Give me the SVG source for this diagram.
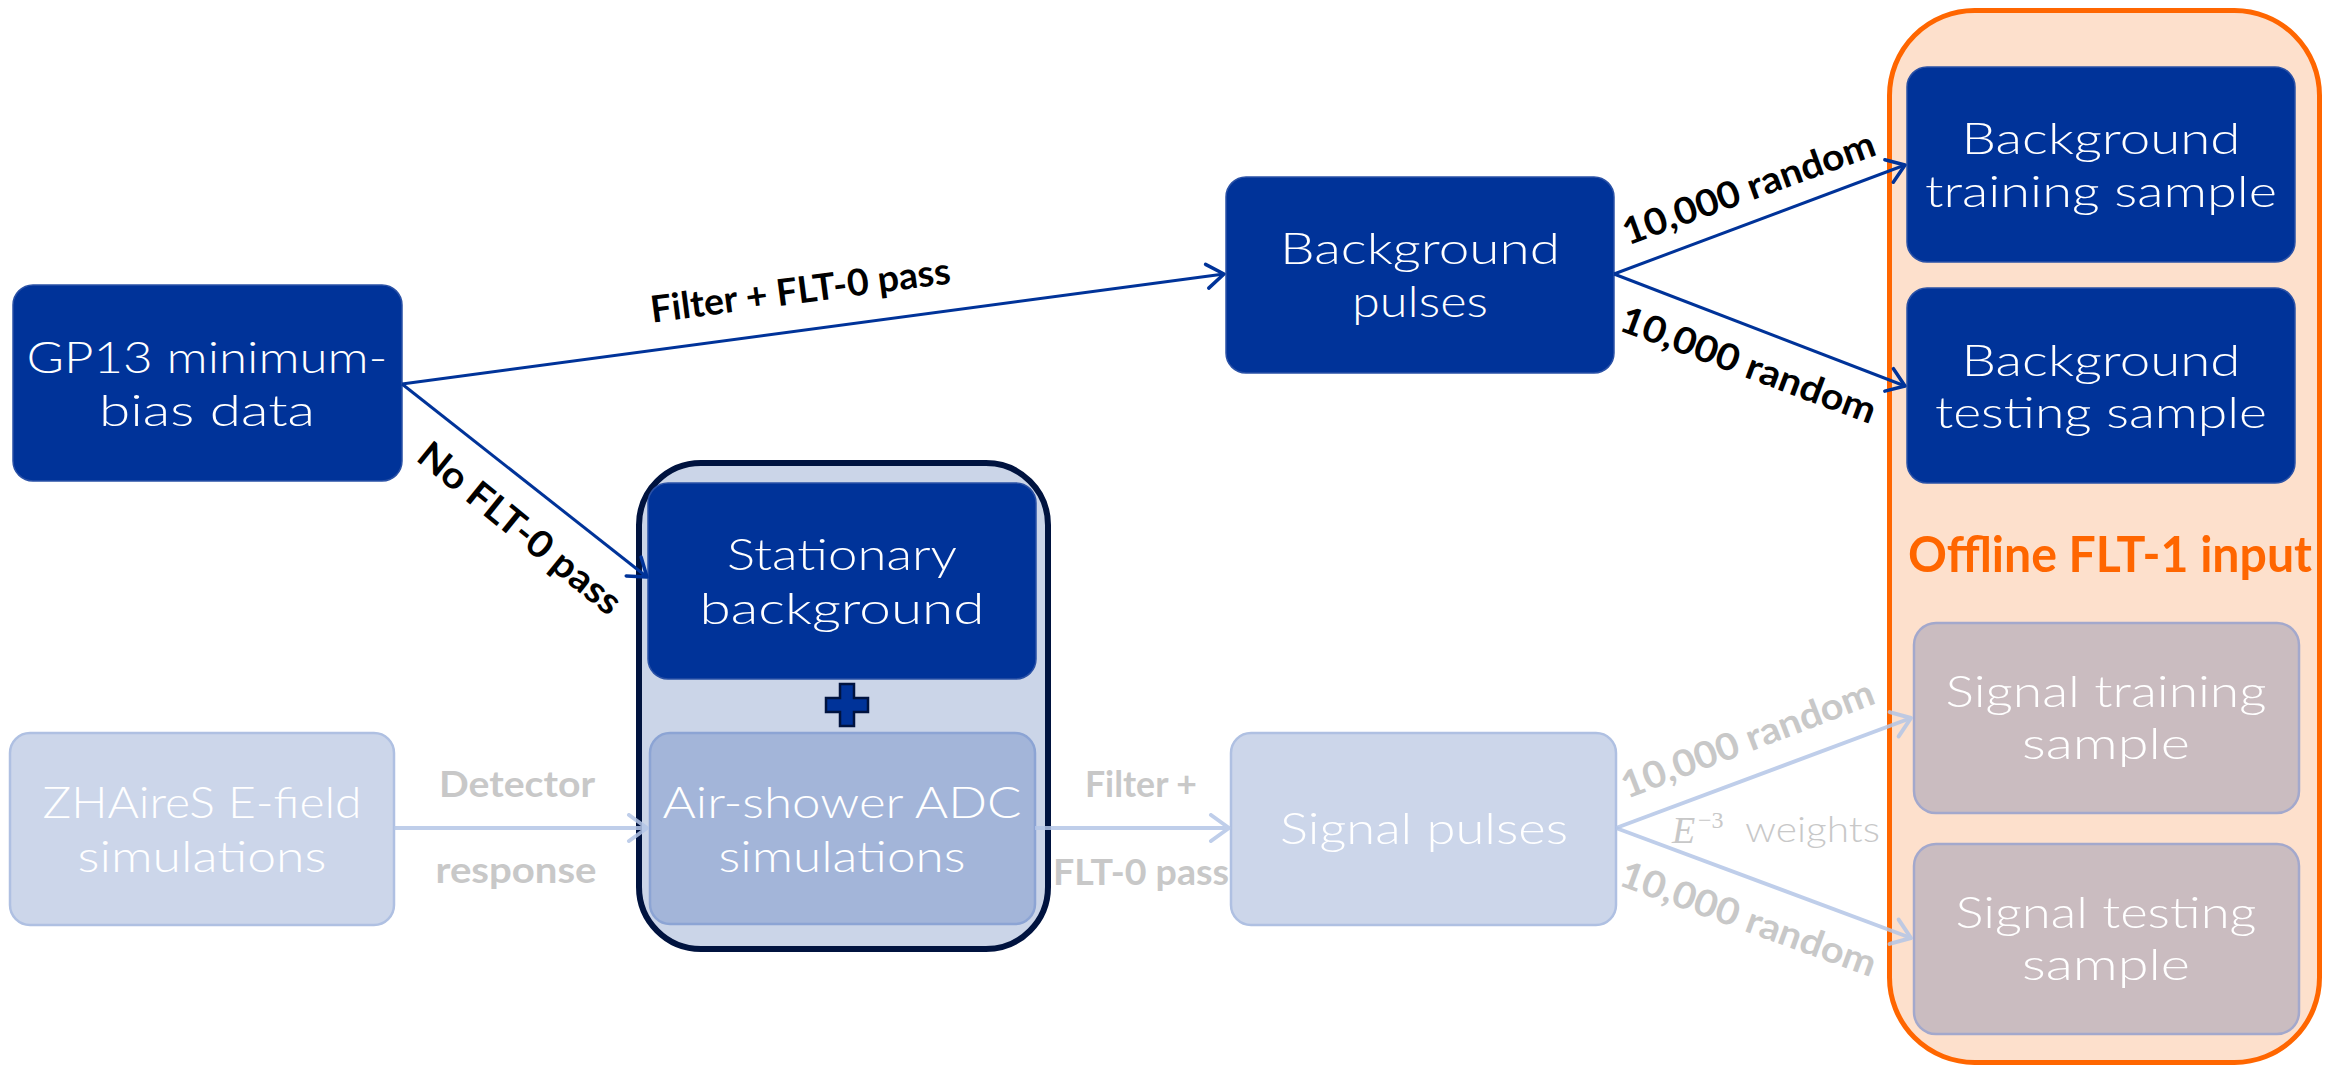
<svg xmlns="http://www.w3.org/2000/svg" width="2341" height="1067" viewBox="0 0 2341 1067">
<style>
.dark{fill:#003399;stroke:#2A51A6;stroke-width:1.5}
.light{fill:#CCD6EA;stroke:#AFC0E2;stroke-width:2.5}
.mid{fill:#A3B5D9;stroke:#8CA4D4;stroke-width:2.5}
.sig{fill:#CABCC0;stroke:#A3A8CC;stroke-width:2.5}
.t{font-family:Lato,"Liberation Sans",sans-serif;font-weight:300;font-size:44px;fill:#FFFFFF;text-anchor:middle}
.lb{font-family:Lato,"Liberation Sans",sans-serif;font-weight:bold;font-size:37px;text-anchor:middle}
.blk{fill:#000000}
.gry{fill:#C8C8C8}
.cd{fill:none;stroke:#003399;stroke-width:3}
.cl{fill:none;stroke:#B4C6E7;stroke-width:4;opacity:0.85}
</style>
<defs>
<marker id="ahD" markerUnits="userSpaceOnUse" markerWidth="40" markerHeight="40" viewBox="-25 -20 30 40" refX="0" refY="0" orient="auto" overflow="visible">
<path d="M-17,-12 L0,0 L-17,12" fill="none" stroke="#003399" stroke-width="3.5" stroke-linecap="round" stroke-linejoin="round"/>
</marker>
<marker id="ahL" markerUnits="userSpaceOnUse" markerWidth="40" markerHeight="40" viewBox="-25 -20 30 40" refX="0" refY="0" orient="auto" overflow="visible">
<path d="M-18,-13 L0,0 L-18,13" fill="none" stroke="#B4C6E7" stroke-width="4" stroke-linecap="round" stroke-linejoin="round"/>
</marker>
</defs>
<rect width="2341" height="1067" fill="#FFFFFF"/>

<g id="offline-container">
<rect x="1889.5" y="10.5" width="430" height="1052" rx="85" fill="#FDE0CC" stroke="#FF6600" stroke-width="5"/>
<text x="2110" y="572" font-family="Lato,'Liberation Sans',sans-serif" font-weight="bold" font-size="50" fill="#FF6600" text-anchor="middle" textLength="404" lengthAdjust="spacingAndGlyphs">Offline FLT-1 input</text>
</g>

<g id="sum-container">
<rect x="639" y="463" width="409" height="486" rx="62" fill="#CBD5E8" stroke="#00133F" stroke-width="6"/>
<path d="M840,684 h14 v14 h14 v14 h-14 v14 h-14 v-14 h-14 v-14 h14 z" fill="#003399" stroke="#00133F" stroke-width="2.5"/>
</g>

<g id="gp13">
<rect class="dark" x="13" y="285" width="389" height="196" rx="20"/>
<text class="t" x="207" y="373" textLength="361" lengthAdjust="spacingAndGlyphs">GP13 minimum-</text>
<text class="t" x="207" y="426" textLength="216" lengthAdjust="spacingAndGlyphs">bias data</text>
</g>

<g id="bg-pulses">
<rect class="dark" x="1226" y="177" width="388" height="196" rx="20"/>
<text class="t" x="1420" y="264" textLength="280" lengthAdjust="spacingAndGlyphs">Background</text>
<text class="t" x="1420" y="317" textLength="136" lengthAdjust="spacingAndGlyphs">pulses</text>
</g>

<g id="bg-training">
<rect class="dark" x="1907" y="67" width="388" height="195" rx="20"/>
<text class="t" x="2101" y="154" textLength="279" lengthAdjust="spacingAndGlyphs">Background</text>
<text class="t" x="2101" y="207" textLength="352" lengthAdjust="spacingAndGlyphs">training sample</text>
</g>

<g id="bg-testing">
<rect class="dark" x="1907" y="288" width="388" height="195" rx="20"/>
<text class="t" x="2101" y="376" textLength="279" lengthAdjust="spacingAndGlyphs">Background</text>
<text class="t" x="2101" y="428" textLength="332" lengthAdjust="spacingAndGlyphs">testing sample</text>
</g>

<g id="stationary">
<rect class="dark" x="648" y="483" width="388" height="196" rx="20"/>
<text class="t" x="842" y="570" textLength="230" lengthAdjust="spacingAndGlyphs">Stationary</text>
<text class="t" x="842" y="624" textLength="285" lengthAdjust="spacingAndGlyphs">background</text>
</g>

<g id="airshower">
<rect class="mid" x="650" y="733" width="385" height="191" rx="20"/>
<text class="t" x="842" y="818" textLength="359" lengthAdjust="spacingAndGlyphs">Air-shower ADC</text>
<text class="t" x="842" y="872" textLength="247" lengthAdjust="spacingAndGlyphs">simulations</text>
</g>

<g id="zhaires">
<rect class="light" x="10" y="733" width="384" height="192" rx="20"/>
<text class="t" x="202" y="818" textLength="319" lengthAdjust="spacingAndGlyphs">ZHAireS E-field</text>
<text class="t" x="202" y="872" textLength="249" lengthAdjust="spacingAndGlyphs">simulations</text>
</g>

<g id="signal-pulses">
<rect class="light" x="1231" y="733" width="385" height="192" rx="20"/>
<text class="t" x="1424" y="844" textLength="288" lengthAdjust="spacingAndGlyphs">Signal pulses</text>
</g>

<g id="sig-training">
<rect class="sig" x="1914" y="623" width="385" height="190" rx="22"/>
<text class="t" x="2106" y="707" textLength="321" lengthAdjust="spacingAndGlyphs">Signal training</text>
<text class="t" x="2106" y="759" textLength="168" lengthAdjust="spacingAndGlyphs">sample</text>
</g>

<g id="sig-testing">
<rect class="sig" x="1914" y="844" width="385" height="190" rx="22"/>
<text class="t" x="2106" y="928" textLength="301" lengthAdjust="spacingAndGlyphs">Signal testing</text>
<text class="t" x="2106" y="980" textLength="168" lengthAdjust="spacingAndGlyphs">sample</text>
</g>

<g id="connectors">
<line class="cd" x1="402" y1="384" x2="1224" y2="274" marker-end="url(#ahD)"/>
<line class="cd" x1="402" y1="384" x2="647" y2="577" marker-end="url(#ahD)"/>
<line class="cd" x1="1614" y1="274" x2="1905" y2="165" marker-end="url(#ahD)"/>
<line class="cd" x1="1614" y1="274" x2="1905" y2="386" marker-end="url(#ahD)"/>
<line class="cl" x1="394" y1="828" x2="647" y2="828" marker-end="url(#ahL)"/>
<line class="cl" x1="1035" y1="828" x2="1229" y2="828" marker-end="url(#ahL)"/>
<line class="cl" x1="1616" y1="828" x2="1911" y2="718" marker-end="url(#ahL)"/>
<line class="cl" x1="1616" y1="828" x2="1911" y2="938" marker-end="url(#ahL)"/>

<text class="lb blk" transform="translate(802,303) rotate(-7.5)" x="0" y="0" font-size="36" textLength="302" lengthAdjust="spacingAndGlyphs">Filter + FLT-0 pass</text>
<text class="lb blk" transform="translate(520,528) rotate(39)" x="0" y="13" font-size="36" textLength="250" lengthAdjust="spacingAndGlyphs">No FLT-0 pass</text>
<text class="lb blk" transform="translate(1753,200) rotate(-20)" x="0" y="0" textLength="266" lengthAdjust="spacingAndGlyphs">10,000 random</text>
<text class="lb blk" transform="translate(1744,377) rotate(20.5)" x="0" y="0" textLength="270" lengthAdjust="spacingAndGlyphs">10,000 random</text>

<text class="lb gry" x="517" y="797" textLength="156" lengthAdjust="spacingAndGlyphs">Detector</text>
<text class="lb gry" x="516" y="883" textLength="161" lengthAdjust="spacingAndGlyphs">response</text>
<text class="lb gry" x="1141" y="797" textLength="112" lengthAdjust="spacingAndGlyphs">Filter +</text>
<text class="lb gry" x="1141" y="885" textLength="176" lengthAdjust="spacingAndGlyphs">FLT-0 pass</text>
<text class="lb gry" transform="translate(1752,751) rotate(-21)" x="0" y="0" textLength="268" lengthAdjust="spacingAndGlyphs">10,000 random</text>
<text class="lb gry" transform="translate(1744,931) rotate(20)" x="0" y="0" textLength="270" lengthAdjust="spacingAndGlyphs">10,000 random</text>
<text x="1672" y="843" font-family="'Liberation Serif',serif" font-style="italic" font-size="38" fill="#C8C8C8">E</text>
<text x="1698" y="828" font-family="'Liberation Serif',serif" font-size="24" fill="#C8C8C8">−3</text>
<text x="1745" y="842" font-family="Lato,'Liberation Sans',sans-serif" font-weight="300" font-size="36" fill="#C8C8C8" textLength="135" lengthAdjust="spacingAndGlyphs">weights</text>
</g>
</svg>
